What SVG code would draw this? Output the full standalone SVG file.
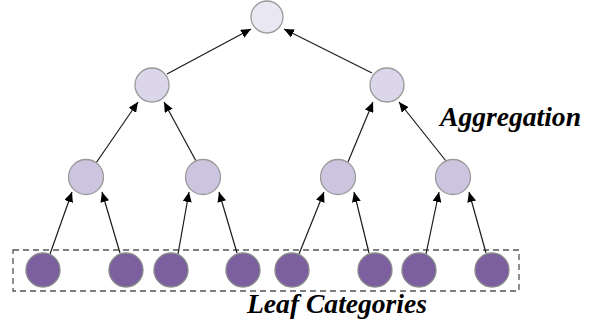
<svg xmlns="http://www.w3.org/2000/svg" width="603" height="329" viewBox="0 0 603 329">
<style>
.n0{fill:#e9e7f1;stroke:#9a9a9a;stroke-width:1.3}
.n1{fill:#dcd6ea;stroke:#9a9a9a;stroke-width:1.3}
.n2{fill:#cdc4df;stroke:#9a9a9a;stroke-width:1.3}
.leaf{fill:#7b5f9f;stroke:#8a8a8a;stroke-width:1.3}
.c line{stroke:#1a1a1a;stroke-width:1.2;marker-end:url(#ah)}
.lbl{font-family:"Liberation Serif","Times New Roman",serif;font-weight:bold;font-style:italic;font-size:28px;fill:#000}
</style>
<defs>
<marker id="ah" markerUnits="userSpaceOnUse" markerWidth="11" markerHeight="9" refX="10" refY="4.5" orient="auto">
<path d="M0,0 L10,4.5 L0,9 Z" fill="#000"/>
</marker>
</defs>
<rect x="13" y="250" width="506" height="41" fill="none" stroke="#555" stroke-width="1.3" stroke-dasharray="6,4"/>
<g class="c" id="connectors">
<line x1="50" y1="254" x2="72" y2="192"/>
<line x1="120" y1="253" x2="102" y2="192"/>
<line x1="178" y1="254" x2="189" y2="192"/>
<line x1="237" y1="253" x2="219" y2="192"/>
<line x1="299" y1="254" x2="324" y2="192"/>
<line x1="369" y1="253" x2="354" y2="192"/>
<line x1="426" y1="254" x2="439" y2="192"/>
<line x1="486" y1="253" x2="469" y2="192"/>
<line x1="96" y1="163" x2="138" y2="102"/>
<line x1="196" y1="161" x2="164" y2="102"/>
<line x1="348" y1="162" x2="373" y2="102"/>
<line x1="446" y1="161" x2="399" y2="102"/>
<line x1="167" y1="74" x2="251" y2="29"/>
<line x1="372" y1="73" x2="284" y2="29"/>
</g>
<g id="top"><circle class="n0" cx="267" cy="17" r="16"/></g>
<g id="agg-left"><circle class="n1" cx="152" cy="85" r="17"/></g>
<g id="agg-right"><circle class="n1" cx="387" cy="85" r="17"/></g>
<g id="mid-1"><circle class="n2" cx="86" cy="177" r="17.5"/></g>
<g id="mid-2"><circle class="n2" cx="203" cy="177" r="17.5"/></g>
<g id="mid-3"><circle class="n2" cx="338" cy="177" r="17.5"/></g>
<g id="mid-4"><circle class="n2" cx="453" cy="177" r="17.5"/></g>
<g id="leaf-1"><circle class="leaf" cx="43" cy="270" r="17"/></g>
<g id="leaf-2"><circle class="leaf" cx="126" cy="270" r="17"/></g>
<g id="leaf-3"><circle class="leaf" cx="171" cy="270" r="17"/></g>
<g id="leaf-4"><circle class="leaf" cx="243" cy="270" r="17"/></g>
<g id="leaf-5"><circle class="leaf" cx="292" cy="270" r="17"/></g>
<g id="leaf-6"><circle class="leaf" cx="375" cy="270" r="17"/></g>
<g id="leaf-7"><circle class="leaf" cx="419" cy="270" r="17"/></g>
<g id="leaf-8"><circle class="leaf" cx="492" cy="270" r="17"/></g>
<text class="lbl" x="440" y="126" textLength="141" lengthAdjust="spacingAndGlyphs">Aggregation</text>
<text class="lbl" x="247" y="313" textLength="180" lengthAdjust="spacingAndGlyphs">Leaf Categories</text>
</svg>
